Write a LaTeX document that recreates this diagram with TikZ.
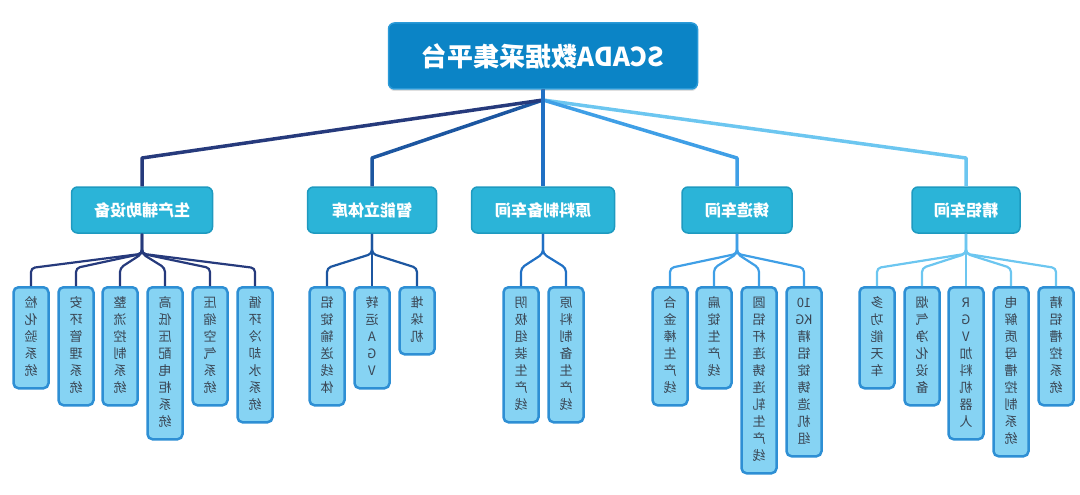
\documentclass[tikz,border=0pt]{standalone}
\usepackage{fontspec}
\setmainfont{Noto Sans CJK SC}
\usepackage{graphicx}
\usetikzlibrary{shadows}
\definecolor{titlefill}{HTML}{0B84C6}
\definecolor{titledraw}{HTML}{2A9AD8}
\definecolor{catfill}{HTML}{2BB4D8}
\definecolor{catdraw}{HTML}{1E9AC0}
\definecolor{leaffill}{HTML}{86D3F3}
\definecolor{leafdraw}{HTML}{2E8FD4}
\definecolor{leaftext}{HTML}{3A4654}
\definecolor{lnA}{HTML}{263A7C}
\definecolor{lnB}{HTML}{1C56A0}
\definecolor{lnC}{HTML}{2070C4}
\definecolor{lnD}{HTML}{3F9FE6}
\definecolor{lnE}{HTML}{6CC6F0}
\newcommand{\leafnode}[3]{\node[leafbox] (#1) at (#2,286) {\reflectbox{\begin{tabular}{@{}c@{}}#3\end{tabular}}};}
\newcommand{\leafline}[3]{\draw[leafline,#3] (#1.south) -- ++(0,20) -- (#2.north |- 0,268) -- (#2.north);}
\begin{document}
\begin{tikzpicture}[x=1pt,y=-1pt,
  titlebox/.style={draw=titledraw,line width=1.5pt,fill=titlefill,rounded corners=6pt,
    minimum width=309pt,minimum height=66pt,text=white,font=\fontsize{26}{30}\selectfont\bfseries,
    drop shadow={shadow xshift=0pt,shadow yshift=-2pt,opacity=0.25}},
  catbox/.style={draw=catdraw,line width=1.5pt,fill=catfill,rounded corners=6pt,
    minimum height=46pt,text=white,font=\fontsize{16}{19}\selectfont\bfseries},
  leafbox/.style={draw=leafdraw,line width=2.5pt,fill=leaffill,rounded corners=5pt,
    anchor=north,minimum width=35pt,inner xsep=2pt,inner ysep=8pt,text=leaftext,
    font=\fontsize{13}{17}\selectfont},
  topline/.style={line width=3.5pt,line join=round},
  leafline/.style={line width=2.2pt,rounded corners=4pt}]
\useasboundingbox (0,0) rectangle (1080,495);
\coordinate (hub) at (543,100);
\coordinate (bend) at (0,158);
% title
\node[titlebox] (root) at (543,56) {\reflectbox{SCADA数据采集平台}};
% categories
\node[catbox,minimum width=141pt] (c1) at (142,210) {\reflectbox{生产辅助设备}};
\node[catbox,minimum width=129pt] (c2) at (372,210) {\reflectbox{智能立体库}};
\node[catbox,minimum width=143pt] (c3) at (543,210) {\reflectbox{原料制备车间}};
\node[catbox,minimum width=110pt] (c4) at (737,210) {\reflectbox{铸造车间}};
\node[catbox,minimum width=108pt] (c5) at (966,210) {\reflectbox{精铝车间}};
\draw[topline,lnE] (root.south) -- (hub) -- (c5.north |- bend) -- (c5.north);
\draw[topline,lnD] (root.south) -- (hub) -- (c4.north |- bend) -- (c4.north);
\draw[topline,lnB] (root.south) -- (hub) -- (c2.north |- bend) -- (c2.north);
\draw[topline,lnA] (root.south) -- (hub) -- (c1.north |- bend) -- (c1.north);
\draw[topline,lnC] (root.south) -- (hub) -- (c3.north);
% leaves group 1
\leafnode{a1}{31}{检\\化\\验\\系\\统}
\leafnode{a2}{76}{安\\环\\管\\理\\系\\统}
\leafnode{a3}{120}{整\\流\\控\\制\\系\\统}
\leafnode{a4}{165}{高\\低\\压\\配\\电\\柜\\系\\统}
\leafnode{a5}{210}{压\\缩\\空\\气\\系\\统}
\leafnode{a6}{255}{循\\环\\冷\\却\\水\\系\\统}
% group 2
\leafnode{b1}{327}{铝\\锭\\输\\送\\线\\体}
\leafnode{b2}{372}{转\\运\\A\\G\\V}
\leafnode{b3}{417}{堆\\垛\\机}
% group 3
\leafnode{d1}{521}{阴\\极\\组\\装\\生\\产\\线}
\leafnode{d2}{566}{原\\料\\制\\备\\生\\产\\线}
% group 4
\leafnode{e1}{670}{合\\金\\棒\\生\\产\\线}
\leafnode{e2}{714}{扁\\锭\\生\\产\\线}
\leafnode{e3}{759}{圆\\铝\\杆\\连\\铸\\连\\轧\\生\\产\\线}
\leafnode{e4}{804}{10\\KG\\精\\铝\\锭\\铸\\造\\机\\组}
% group 5
\leafnode{f1}{877}{多\\功\\能\\天\\车}
\leafnode{f2}{922}{烟\\气\\净\\化\\设\\备}
\leafnode{f3}{966}{R\\G\\V\\加\\料\\机\\器\\人}
\leafnode{f4}{1011}{电\\解\\质\\母\\槽\\控\\制\\系\\统}
\leafnode{f5}{1056}{精\\铝\\槽\\控\\系\\统}
% leaf connectors
\foreach \l in {a1,a2,a3,a4,a5,a6}{\leafline{c1}{\l}{lnA}}
\foreach \l in {b1,b2,b3}{\leafline{c2}{\l}{lnB}}
\foreach \l in {d1,d2}{\leafline{c3}{\l}{lnC}}
\foreach \l in {e1,e2,e3,e4}{\leafline{c4}{\l}{lnD}}
\foreach \l in {f1,f2,f3,f4,f5}{\leafline{c5}{\l}{lnE}}
\end{tikzpicture}
\end{document}
